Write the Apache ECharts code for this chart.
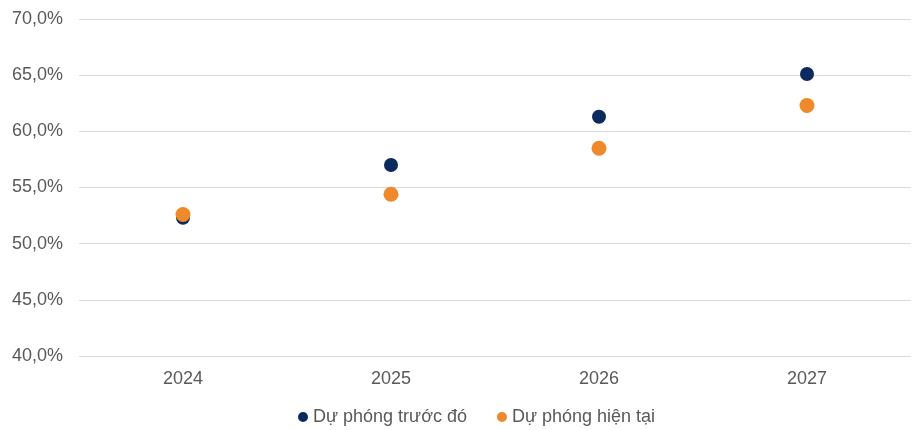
<!DOCTYPE html>
<html>
<head>
<meta charset="utf-8">
<script src="https://cdn.jsdelivr.net/npm/echarts@6/dist/echarts.min.js"></script>
<style>
  html, body { margin: 0; padding: 0; background: #ffffff; }
  #chart { width: 917px; height: 430px; }
</style>
</head>
<body>
<div id="chart"></div>
<script>
// Forecast years and the two forecast series (percent)
var years = ['2024', '2025', '2026', '2027'];
var previousForecast = [52.3, 57.0, 61.3, 65.1];
var currentForecast = [52.6, 54.4, 58.5, 62.3];
var seriesNames = ['Dự phóng trước đó', 'Dự phóng hiện tại'];

function pct(v) {
  return v.toFixed(1).replace('.', ',') + '%';
}

var FONT = 'Liberation Sans, Arial, sans-serif';

var chart = echarts.init(document.getElementById('chart'), null, { renderer: 'canvas' });
chart.setOption({
  animation: false,
  textStyle: { fontFamily: FONT },
  grid: { left: 79, right: 6, top: 19, bottom: 74 },
  legend: {
    bottom: -1,
    left: 293,
    itemWidth: 10,
    itemHeight: 10,
    itemGap: 30,
    icon: 'circle',
    textStyle: { color: '#595959', fontSize: 18, fontFamily: FONT },
    data: seriesNames
  },
  xAxis: {
    type: 'category',
    data: years,
    boundaryGap: true,
    axisLine: { show: false },
    axisTick: { show: false },
    axisLabel: { color: '#595959', fontSize: 18, margin: 14, fontFamily: FONT }
  },
  yAxis: {
    type: 'value',
    min: 40,
    max: 70,
    interval: 5,
    axisLine: { show: false },
    axisTick: { show: false },
    axisLabel: { color: '#595959', fontSize: 18, margin: 16, formatter: pct, fontFamily: FONT },
    splitLine: { lineStyle: { color: '#d9d9d9', width: 1 } }
  },
  series: [
    {
      name: seriesNames[0],
      type: 'scatter',
      data: previousForecast,
      symbolSize: 14,
      itemStyle: { color: '#0c2a5e', opacity: 1 }
    },
    {
      name: seriesNames[1],
      type: 'scatter',
      data: currentForecast,
      symbolSize: 15,
      itemStyle: { color: '#ee8a2c', opacity: 1 }
    }
  ]
});
</script>
</body>
</html>
